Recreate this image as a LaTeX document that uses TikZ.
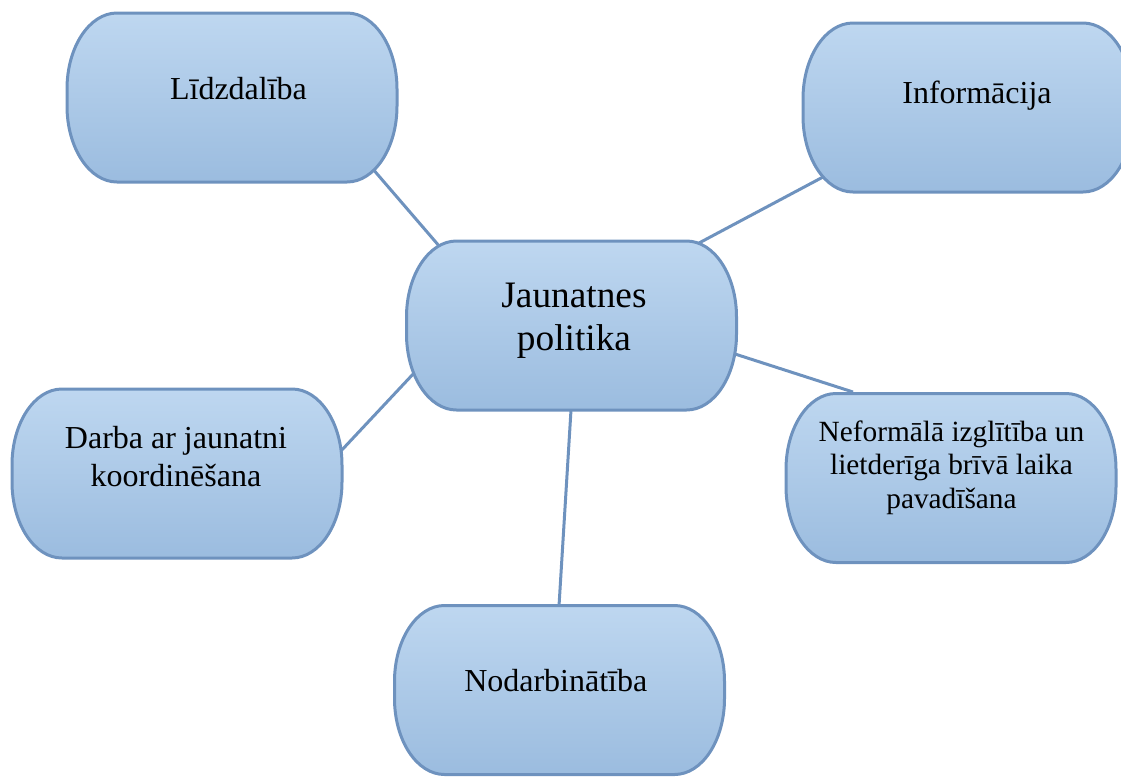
\documentclass[tikz,border=0pt]{standalone}
\usepackage{fontspec}
\setmainfont{Liberation Serif}
\usetikzlibrary{calc}
\definecolor{bordc}{RGB}{110,146,190}
\definecolor{topc}{RGB}{190,215,240}
\definecolor{botc}{RGB}{155,188,223}
\tikzset{
  capsulestyle/.style={draw=bordc, line width=3pt*0.75, top color=topc, bottom color=botc},
  conn/.style={draw=bordc, line width=3pt*0.75},
  lbl/.style={font=\fontsize{24}{28.5}\selectfont, align=center, inner sep=0pt, text=black},
}
\newcommand\capsule[3]{%
  \path[capsulestyle] (#2-115,#3-84.5) -- (#2+115,#3-84.5)
    arc[start angle=-90,end angle=0,x radius=50,y radius=76] -- (#2+165,#3+8.5)
    arc[start angle=0,end angle=90,x radius=50,y radius=76] -- (#2-115,#3+84.5)
    arc[start angle=90,end angle=180,x radius=50,y radius=76] -- (#2-165,#3-8.5)
    arc[start angle=180,end angle=270,x radius=50,y radius=76] -- cycle;
  \coordinate (#1) at (#2,#3);}
\begin{document}
\begin{tikzpicture}[x=0.75pt,y=-0.75pt]
\useasboundingbox (0,0) rectangle (1121,776);
% connector end points
\coordinate (lid-a) at (372,168);
\coordinate (cen-a) at (440,247);
\coordinate (inf-a) at (823,177);
\coordinate (cen-b) at (699,243);
\coordinate (cen-c) at (735,354);
\coordinate (nef-a) at (853,392);
\coordinate (cen-d) at (415,372);
\coordinate (dar-a) at (340,452);
\coordinate (cen-e) at (571,410);
\coordinate (nod-a) at (559,606);
\draw[conn] (lid-a) -- (cen-a);
\draw[conn] (inf-a) -- (cen-b);
\draw[conn] (cen-c) -- (nef-a);
\draw[conn] (cen-d) -- (dar-a);
\draw[conn] (cen-e) -- (nod-a);
% boxes
\capsule{lid}{232}{97.5}
\capsule{inf}{968}{107.5}
\capsule{cen}{571.5}{325.5}
\capsule{dar}{177}{473.5}
\capsule{nef}{951}{478}
\capsule{nod}{559.5}{690}
% texts (multi-line nodes: base is the last line's baseline)
\node[lbl, anchor=base] (lid-t) at (238.5,99) {Līdzdalība};
\node[lbl, anchor=base] (inf-t) at (977,103.3) {Informācija};
\node[lbl, anchor=base, font=\fontsize{28}{31.7}\selectfont] (cen-t) at (574,350) {Jaunatnes\\politika};
\node[lbl, anchor=base, font=\fontsize{24}{28.3}\selectfont] (dar-t) at (176,486) {Darba ar jaunatni\\koordinēšana};
\node[lbl, anchor=base, font=\fontsize{22}{24.8}\selectfont] (nef-t) at (951.5,508) {Neformālā izglītība un\\lietderīga brīvā laika\\pavadīšana};
\node[lbl, anchor=base] (nod-t) at (555.8,691) {Nodarbinātība};
\end{tikzpicture}
\end{document}
